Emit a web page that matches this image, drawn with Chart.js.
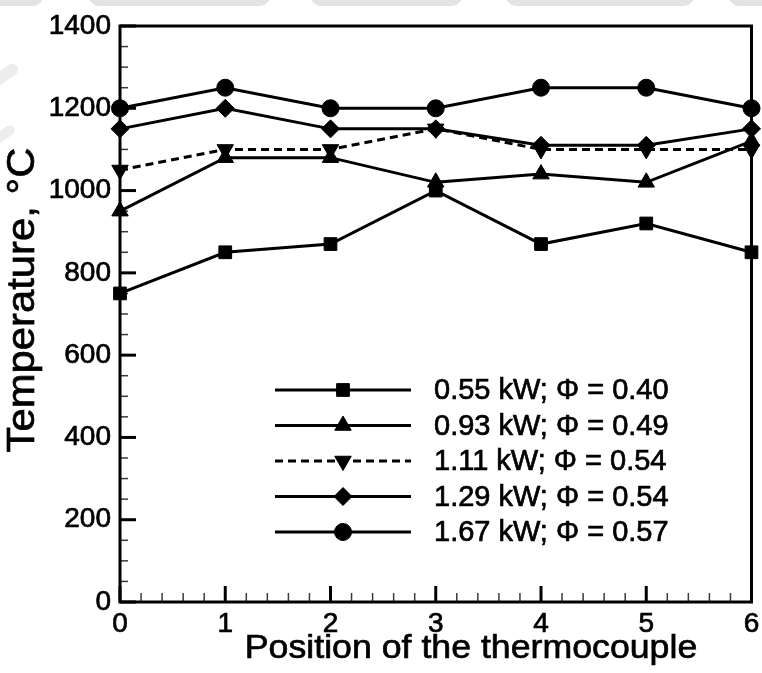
<!DOCTYPE html>
<html>
<head>
<meta charset="utf-8">
<title>Temperature along the thermocouple positions</title>
<script src="https://cdn.jsdelivr.net/npm/chart.js"></script>
<style>
  html, body { margin: 0; padding: 0; background: #fff; }
  #wrap { position: relative; width: 762px; height: 673px; overflow: hidden; background: #fff; }
  #wrap canvas { position: absolute; left: 0; top: 0; }
  .band { position: absolute; top: -16px; height: 22px; background: #e3e3e3; border-radius: 0 0 12px 12px; }
  .smear { position: absolute; background: #ededed; border-radius: 10px; }
</style>
</head>
<body>
<div id="wrap">
  <div class="band" style="left:-20px;width:64px"></div>
  <div class="band" style="left:88px;width:183px"></div>
  <div class="band" style="left:310px;width:153px"></div>
  <div class="band" style="left:505px;width:190px"></div>
  <div class="band" style="left:728px;width:60px"></div>
  <div class="smear" style="left:-14px;top:70px;width:34px;height:12px;transform:rotate(-35deg)"></div>
  <div class="smear" style="left:-10px;top:130px;width:26px;height:10px;transform:rotate(-35deg)"></div>
  <canvas id="c" width="762" height="673"></canvas>
</div>
<script>
// Thermocouple positions along the burner (x axis)
const positions = [0, 1, 2, 3, 4, 5, 6];

// Measured temperatures (°C) at each position, one array per operating point
const temp055 = [750, 850, 870, 1000, 870, 920, 850];
const temp093 = [950, 1080, 1080, 1020, 1040, 1020, 1120];
const temp111 = [1050, 1100, 1100, 1150, 1100, 1100, 1100];
const temp129 = [1150, 1200, 1150, 1150, 1110, 1110, 1150];
const temp167 = [1200, 1250, 1200, 1200, 1250, 1250, 1200];

const seriesLabels = [
  '0.55 kW; \u03A6 = 0.40',
  '0.93 kW; \u03A6 = 0.49',
  '1.11 kW; \u03A6 = 0.54',
  '1.29 kW; \u03A6 = 0.54',
  '1.67 kW; \u03A6 = 0.57'
];

const xTitle = 'Position of the thermocouple';
const yTitle = 'Temperature, \u00B0C';

// Axis ranges and tick spacing
const yMin = 0, yMax = 1400, yMajor = 200, yMinor = 50;
const xMin = 0, xMax = 6, xMajor = 1, xMinor = 0.2;

const FONT = '"Liberation Sans", Arial, Helvetica, sans-serif';
const TEXT_STROKE = 0.7;

const toPoints = vals => positions.map((p, i) => ({ x: p, y: vals[i] }));

function seriesStyle(label, vals, pointStyle, radius, rotation, dash) {
  return {
    label: label,
    data: toPoints(vals),
    borderColor: '#000',
    backgroundColor: '#000',
    borderWidth: 3,
    borderDash: dash || [],
    tension: 0,
    clip: false,
    pointStyle: pointStyle,
    pointRadius: radius,
    pointRotation: rotation,
    pointBackgroundColor: '#000',
    pointBorderColor: '#000',
    pointBorderWidth: 1,
    pointHoverRadius: radius
  };
}

const datasets = [
  seriesStyle(seriesLabels[0], temp055, 'rect', 9, 0),
  seriesStyle(seriesLabels[1], temp093, 'triangle', 9.5, 0),
  seriesStyle(seriesLabels[2], temp111, 'triangle', 9.5, 180, [8, 5]),
  seriesStyle(seriesLabels[3], temp129, 'rectRot', 9, 0),
  seriesStyle(seriesLabels[4], temp167, 'circle', 8.5, 0)
];

const isMultiple = (v, step) => Math.abs(v / step - Math.round(v / step)) < 1e-6;

// Filled + lightly stroked text, so glyphs have the same weight everywhere
function heavyText(ctx, str, x, y) {
  ctx.fillText(str, x, y);
  ctx.lineWidth = TEXT_STROKE;
  ctx.strokeStyle = '#000';
  ctx.setLineDash([]);
  ctx.strokeText(str, x, y);
}

// Marker drawing shared by the key
function drawMarker(ctx, ds, x, y) {
  const opts = {
    pointStyle: ds.pointStyle,
    rotation: ds.pointRotation || 0,
    radius: ds.pointRadius,
    borderWidth: ds.pointBorderWidth
  };
  ctx.fillStyle = ds.pointBackgroundColor;
  ctx.strokeStyle = ds.pointBorderColor;
  ctx.lineWidth = ds.pointBorderWidth;
  ctx.setLineDash([]);
  if (window.Chart && Chart.helpers && Chart.helpers.drawPoint) {
    Chart.helpers.drawPoint(ctx, opts, x, y);
    return;
  }
  const r = opts.radius;
  ctx.beginPath();
  if (opts.pointStyle === 'circle') {
    ctx.arc(x, y, r, 0, Math.PI * 2);
  } else if (opts.pointStyle === 'rect') {
    const s = Math.SQRT1_2 * r;
    ctx.rect(x - s, y - s, 2 * s, 2 * s);
  } else if (opts.pointStyle === 'rectRot') {
    ctx.moveTo(x - r, y); ctx.lineTo(x, y - r); ctx.lineTo(x + r, y); ctx.lineTo(x, y + r);
    ctx.closePath();
  } else {
    let rad = opts.rotation * Math.PI / 180;
    ctx.moveTo(x + Math.sin(rad) * r, y - Math.cos(rad) * r);
    rad += 2 * Math.PI / 3;
    ctx.lineTo(x + Math.sin(rad) * r, y - Math.cos(rad) * r);
    rad += 2 * Math.PI / 3;
    ctx.lineTo(x + Math.sin(rad) * r, y - Math.cos(rad) * r);
    ctx.closePath();
  }
  ctx.fill();
  ctx.stroke();
}

// Frame around the plot plus inward major / minor tick marks
const frameAndTicks = {
  id: 'frameAndTicks',
  beforeDatasetsDraw(chart) {
    const { ctx, chartArea: a, scales } = chart;
    const xs = scales.x, ys = scales.y;
    ctx.save();
    ctx.lineCap = 'butt';
    ys.ticks.forEach(t => {
      const py = ys.getPixelForValue(t.value);
      const major = isMultiple(t.value, yMajor);
      ctx.beginPath();
      ctx.lineWidth = major ? 3 : 1.5;
      ctx.strokeStyle = major ? '#000' : '#3a3a3a';
      ctx.moveTo(a.left, py);
      ctx.lineTo(a.left + (major ? 16 : 8), py);
      ctx.stroke();
    });
    xs.ticks.forEach(t => {
      const px = xs.getPixelForValue(t.value);
      const major = isMultiple(t.value, xMajor);
      ctx.beginPath();
      ctx.lineWidth = major ? 3 : 1.5;
      ctx.strokeStyle = major ? '#000' : '#3a3a3a';
      ctx.moveTo(px, a.bottom);
      ctx.lineTo(px, a.bottom - (major ? 16 : 9));
      ctx.stroke();
    });
    ctx.lineWidth = 3;
    ctx.strokeStyle = '#000';
    ctx.strokeRect(a.left, a.top, a.right - a.left, a.bottom - a.top);
    ctx.restore();
  }
};

// Key inside the plot: line sample with the series marker in the middle
const lineKey = {
  id: 'lineKey',
  afterDatasetsDraw(chart) {
    const { ctx, chartArea: a } = chart;
    const x0 = a.left + 155, x1 = a.left + 291, xm = a.left + 223, xt = a.left + 314;
    const y0 = a.top + 364, dy = 35.5;
    ctx.save();
    chart.data.datasets.forEach((ds, i) => {
      const y = y0 + i * dy;
      ctx.beginPath();
      ctx.strokeStyle = ds.borderColor;
      ctx.lineWidth = ds.borderWidth;
      ctx.setLineDash(ds.borderDash || []);
      ctx.moveTo(x0, y);
      ctx.lineTo(x1, y);
      ctx.stroke();
      drawMarker(ctx, ds, xm, y);
      ctx.fillStyle = '#000';
      ctx.font = '29px ' + FONT;
      ctx.textAlign = 'left';
      ctx.textBaseline = 'middle';
      heavyText(ctx, ds.label, xt, y + 1);
    });
    ctx.restore();
  }
};

// Axis titles, placed in the space reserved by the scales
const axisTitles = {
  id: 'axisTitles',
  afterDraw(chart) {
    const { ctx, chartArea: a } = chart;
    ctx.save();
    ctx.fillStyle = '#000';
    ctx.textAlign = 'center';
    ctx.textBaseline = 'middle';
    ctx.font = '34px ' + FONT;
    ctx.save();
    ctx.translate(a.left + 351, a.bottom + 47);
    ctx.scale(1.05, 1);
    heavyText(ctx, xTitle, 0, 0);
    ctx.restore();
    ctx.save();
    ctx.translate(24, a.top + 274);
    ctx.rotate(-Math.PI / 2);
    ctx.scale(1.1, 1);
    ctx.font = '38px ' + FONT;
    heavyText(ctx, yTitle, 0, 0);
    ctx.restore();
    ctx.restore();
  }
};

new Chart(document.getElementById('c'), {
  type: 'line',
  data: { datasets: datasets },
  options: {
    responsive: false,
    animation: false,
    events: [],
    layout: { padding: { left: 0, right: 10, top: 26, bottom: 0 } },
    plugins: { legend: { display: false }, tooltip: { enabled: false } },
    scales: {
      x: {
        type: 'linear',
        min: xMin, max: xMax,
        grid: { display: false, drawTicks: false },
        border: { display: false },
        ticks: {
          stepSize: xMinor,
          autoSkip: false,
          maxRotation: 0,
          padding: 5,
          color: '#000',
          textStrokeColor: '#000',
          textStrokeWidth: TEXT_STROKE,
          font: { family: FONT, size: 28 },
          callback: v => isMultiple(v, xMajor) ? String(Math.round(v)) : ''
        },
        title: { display: false },
        afterFit(scale) { scale.height = 71; scale.paddingLeft = 0; scale.paddingRight = 0; }
      },
      y: {
        type: 'linear',
        min: yMin, max: yMax,
        grid: { display: false, drawTicks: false },
        border: { display: false },
        ticks: {
          stepSize: yMinor,
          autoSkip: false,
          padding: 9,
          color: '#000',
          textStrokeColor: '#000',
          textStrokeWidth: TEXT_STROKE,
          font: { family: FONT, size: 28 },
          callback: v => isMultiple(v, yMajor) ? String(v) : ''
        },
        title: { display: false },
        afterFit(scale) { scale.width = 120; scale.paddingTop = 0; scale.paddingBottom = 0; }
      }
    }
  },
  plugins: [frameAndTicks, lineKey, axisTitles]
});
</script>
</body>
</html>
